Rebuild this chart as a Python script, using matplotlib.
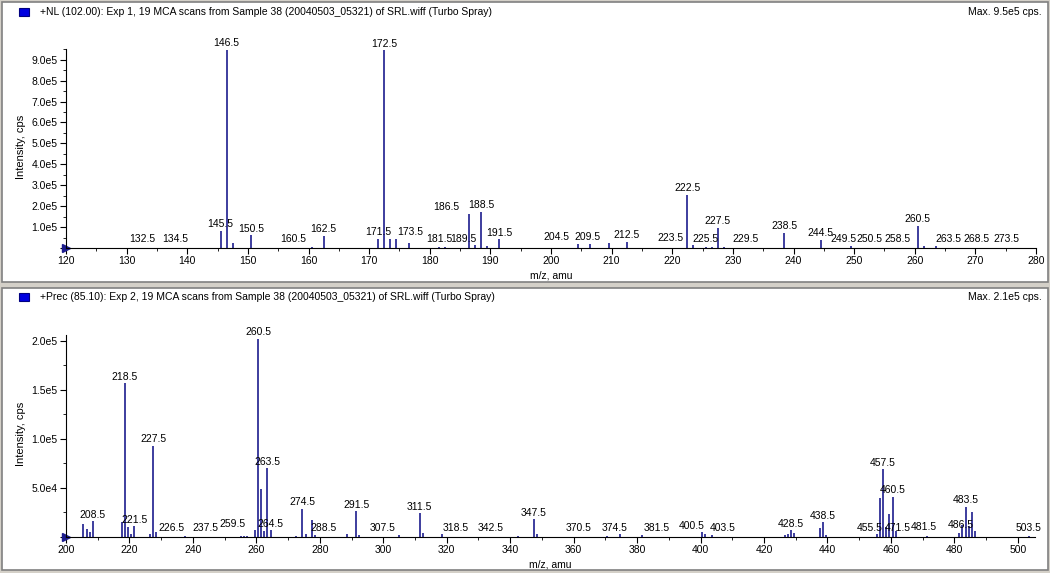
import matplotlib
matplotlib.use("Agg")
import matplotlib.pyplot as plt
from matplotlib.patches import Rectangle
from matplotlib.ticker import MultipleLocator, FuncFormatter

plt.rcParams['font.family'] = ['Liberation Sans', 'DejaVu Sans']

# ---- data: top spectrum (NL 102) ----
top_mz = [132.5, 134.5, 145.5, 146.5, 147.5, 150.5, 160.5, 162.5, 171.5, 172.5, 173.5, 174.5,
          176.5, 181.5, 182.5, 186.5, 187.5, 188.5, 189.5, 191.5, 204.5, 206.5, 209.5, 212.5,
          222.5, 223.5, 225.5, 226.5, 227.5, 228.5, 229.5, 238.5, 244.5, 249.5, 250.5,
          258.5, 260.5, 261.5, 263.5, 268.5, 273.5]
top_int = [0.02e5, 0.02e5, 0.83e5, 9.47e5, 0.25e5, 0.60e5, 0.05e5, 0.58e5, 0.45e5, 9.45e5, 0.45e5, 0.45e5,
           0.25e5, 0.04e5, 0.05e5, 1.64e5, 0.12e5, 1.74e5, 0.08e5, 0.42e5, 0.20e5, 0.20e5, 0.22e5, 0.30e5,
           2.55e5, 0.15e5, 0.05e5, 0.05e5, 0.97e5, 0.05e5, 0.02e5, 0.73e5, 0.40e5, 0.10e5, 0.02e5,
           0.02e5, 1.07e5, 0.08e5, 0.10e5, 0.02e5, 0.02e5]
top_labels = ["132.5", "134.5", "145.5", "146.5", "150.5", "160.5", "162.5", "171.5", "172.5",
              "173.5", "181.5", "186.5", "188.5", "189.5", "191.5", "204.5", "209.5", "212.5",
              "222.5", "223.5", "225.5", "227.5", "229.5", "238.5", "244.5", "249.5", "250.5",
              "258.5", "260.5", "263.5", "268.5", "273.5"]

# ---- data: bottom spectrum (Prec 85.1) ----
bot_mz = [204.0, 205.5, 206.5, 207.5, 208.5, 217.5, 218.5, 219.5, 220.5, 221.5, 226.5, 227.5,
          228.5, 237.5, 255.0, 256.0, 257.0, 259.5, 260.5, 261.5, 262.5, 263.5, 264.5, 272.5,
          274.5, 275.5, 277.5, 278.5, 288.5, 291.5, 292.5, 305.0, 311.5, 312.5, 318.5, 342.5,
          347.5, 348.5, 370.5, 374.5, 381.5, 400.5, 401.5, 403.5, 426.5, 427.5, 428.5, 429.5,
          437.5, 438.5, 439.5, 455.5, 456.5, 457.5, 458.5, 459.5, 460.5, 461.5, 471.5, 481.5,
          482.5, 483.5, 484.5, 485.5, 486.5, 503.5]
bot_int = [0.03e4, 1.3e4, 0.8e4, 0.5e4, 1.6e4, 1.5e4, 15.7e4, 1.0e4, 0.3e4, 1.1e4, 0.3e4, 9.3e4,
           0.5e4, 0.1e4, 0.1e4, 0.1e4, 0.1e4, 0.7e4, 20.2e4, 4.9e4, 0.6e4, 7.0e4, 0.7e4, 0.1e4,
           2.9e4, 0.3e4, 1.7e4, 0.2e4, 0.3e4, 2.6e4, 0.2e4, 0.2e4, 2.4e4, 0.4e4, 0.3e4, 0.1e4,
           1.8e4, 0.3e4, 0.1e4, 0.3e4, 0.2e4, 0.5e4, 0.3e4, 0.2e4, 0.2e4, 0.3e4, 0.7e4, 0.4e4,
           0.9e4, 1.5e4, 0.2e4, 0.3e4, 4.0e4, 6.9e4, 1.0e4, 2.3e4, 4.1e4, 0.6e4, 0.1e4, 0.4e4,
           1.2e4, 3.1e4, 1.1e4, 2.5e4, 0.6e4, 0.1e4]
bot_labels = ["208.5", "218.5", "221.5", "226.5", "227.5", "237.5", "259.5", "260.5", "263.5",
              "264.5", "274.5", "288.5", "291.5", "307.5", "311.5", "318.5", "342.5", "347.5",
              "370.5", "374.5", "381.5", "400.5", "403.5", "428.5", "438.5", "455.5", "457.5",
              "460.5", "471.5", "481.5", "483.5", "486.5", "503.5"]

top_title = "+NL (102.00): Exp 1, 19 MCA scans from Sample 38 (20040503_05321) of SRL.wiff (Turbo Spray)"
bot_title = "+Prec (85.10): Exp 2, 19 MCA scans from Sample 38 (20040503_05321) of SRL.wiff (Turbo Spray)"
top_max = "Max. 9.5e5 cps."
bot_max = "Max. 2.1e5 cps."

# label horizontal displacement (pixels) to avoid collisions
top_shift = {"134.5": 21, "160.5": -18, "173.5": 20, "186.5": -23, "189.5": -24,
             "204.5": -22, "209.5": -21, "223.5": -23, "229.5": 16, "249.5": -8,
             "250.5": 12, "258.5": -8, "263.5": 12, "268.5": 10, "273.5": 10}
bot_shift = {"226.5": 21, "237.5": 20, "259.5": -22, "288.5": -23, "307.5": -24,
             "318.5": 14, "342.5": -27, "370.5": -28, "374.5": -5, "381.5": 15,
             "400.5": -10, "403.5": 11, "455.5": -7, "471.5": -30, "481.5": -35,
             "486.5": -14}

W, H = 1050, 573
NAVY = '#1c1c8e'
fig = plt.figure(figsize=(W / 100, H / 100), dpi=100)
fig.patch.set_facecolor('#d4d0c8')

def px(x0, y0, w, h):
    return [x0 / W, 1 - (y0 + h) / H, w / W, h / H]

def panel(y0, y1):
    fig.patches.append(Rectangle((2 / W, 1 - y1 / H), 1046 / W, (y1 - y0) / H,
                                 transform=fig.transFigure, facecolor='white',
                                 edgecolor='#808080', lw=1.2, zorder=-10))

panel(2, 282)
panel(288, 570)

def fmt(v, _):
    if v == 0:
        return ""
    s = "%.1e" % v
    m, e = s.split("e")
    return "%se%d" % (m, int(e))

def draw(ax, mz, inten, labels, shift, xlim, ylim, xmaj, xmin, ymaj, ymin):
    ax.set_zorder(5)
    ax.vlines(mz, 0, inten, color=NAVY, lw=1.2)
    ax.set_xlim(*xlim)
    ax.set_ylim(*ylim)
    ax.patch.set_alpha(0)
    for s in ['top', 'right']:
        ax.spines[s].set_visible(False)
    ax.spines['left'].set_bounds(0, ylim[1] * 0.98)
    ax.xaxis.set_major_locator(MultipleLocator(xmaj))
    ax.xaxis.set_minor_locator(MultipleLocator(xmin))
    ax.yaxis.set_major_locator(MultipleLocator(ymaj))
    ax.yaxis.set_minor_locator(MultipleLocator(ymin))
    ax.yaxis.set_major_formatter(FuncFormatter(fmt))
    ax.tick_params(labelsize=7.5, length=4, width=0.8, pad=2)
    ax.tick_params(which='minor', length=2)
    ax.set_ylabel("Intensity, cps", fontsize=8, labelpad=4)
    ax.plot([xlim[0]], [0], marker='>', color=NAVY, ms=6, clip_on=False)
    lookup = dict(zip(mz, inten))
    for lab in labels:
        x = float(lab)
        h = lookup.get(x, 0)
        y = max(h, ylim[1] * 0.012)
        dx = shift.get(lab, 0) * 0.72
        ax.annotate(lab, (x, y), xytext=(dx, 1), textcoords='offset points',
                    ha='center', va='bottom', fontsize=7.5)
    ax.text(0.5, -0.11, "m/z, amu", transform=ax.transAxes, ha='center',
            va='top', fontsize=7.5)

ax1 = fig.add_axes(px(66, 45, 970, 203))
draw(ax1, top_mz, top_int, top_labels, top_shift, (120, 280), (0, 9.7e5), 10, 5, 1e5, 0.5e5)
ax2 = fig.add_axes(px(66, 331, 969, 206))
draw(ax2, bot_mz, bot_int, bot_labels, bot_shift, (200, 505.4), (0, 2.1e5), 20, 10, 5e4, 2.5e4)

for y, t, m in [(12, top_title, top_max), (297, bot_title, bot_max)]:
    fig.patches.append(Rectangle((19 / W, 1 - (y + 4) / H), 10 / W, 8 / H,
                                 transform=fig.transFigure, facecolor='#0000e0',
                                 edgecolor='#000080', lw=0.8))
    fig.text(40 / W, 1 - y / H, t, fontsize=7.5, va='center', ha='left')
    fig.text(1042 / W, 1 - y / H, m, fontsize=7.5, va='center', ha='right')

fig.savefig("out.png", dpi=100, facecolor=fig.get_facecolor())
